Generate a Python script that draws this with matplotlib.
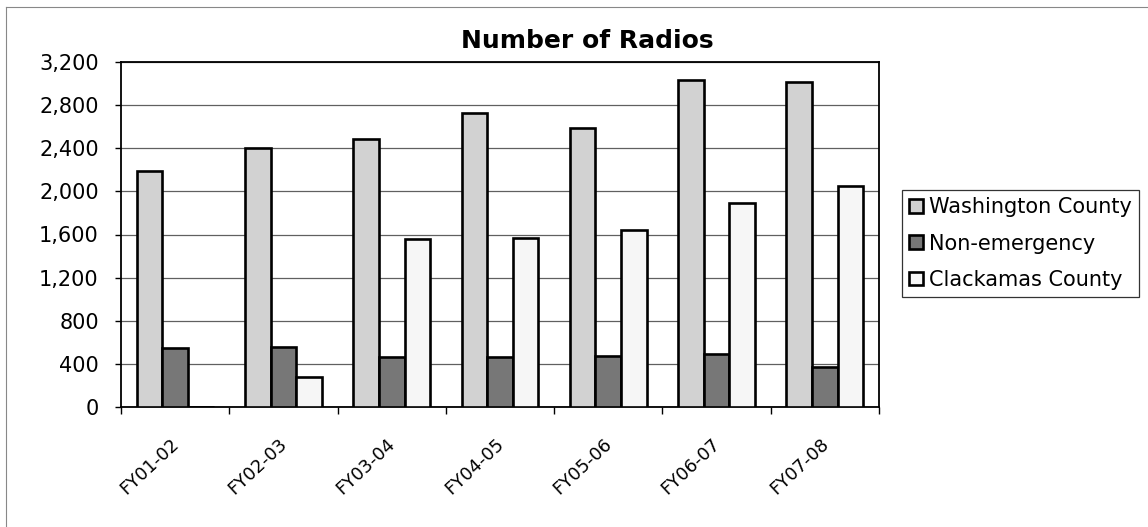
import matplotlib
matplotlib.use("Agg")
import matplotlib.pyplot as plt
import matplotlib.transforms as mtransforms
from matplotlib.lines import Line2D
from matplotlib.ticker import FuncFormatter, FixedLocator
import numpy as np

categories = ["FY01-02", "FY02-03", "FY03-04", "FY04-05", "FY05-06", "FY06-07", "FY07-08"]
washington = [2190, 2400, 2490, 2730, 2585, 3035, 3015]
non_emergency = [550, 555, 460, 467, 473, 490, 368]
clackamas = [0, 280, 1555, 1565, 1642, 1890, 2050]
series_names = ["Washington County", "Non-emergency", "Clackamas County"]
colors = ["#d2d2d2", "#777777", "#f6f6f6"]

plt.rcParams['font.family'] = ['DejaVu Sans']

W, H = 1148, 527
fig = plt.figure(figsize=(W / 100, H / 100), dpi=100)
ax = fig.add_axes([121 / W, 1 - 407 / H, 758 / W, 345 / H])

x = np.arange(len(categories))
bw = 0.237
for i, (vals, name, col) in enumerate(zip([washington, non_emergency, clackamas], series_names, colors)):
    ax.bar(x + (i - 1) * bw, vals, width=bw, color=col, edgecolor="black",
           linewidth=1.9, label=name, zorder=3)

ax.set_xlim(-0.5, len(categories) - 0.5)
ax.set_ylim(0, 3200)
ax.set_yticks(np.arange(0, 3201, 400))
ax.yaxis.set_major_formatter(FuncFormatter(lambda v, p: f"{int(v):,}"))
ax.grid(axis="y", color="#606060", linewidth=0.9, zorder=0)
ax.set_axisbelow(True)

for s in ax.spines.values():
    s.set_color("black")
    s.set_linewidth(1.3)

ax.tick_params(axis="y", labelsize=15, length=4, width=1, pad=12, direction="out")
ax.set_xticks(x)
ax.set_xticklabels(categories, rotation=43, ha="right", va="center",
                   rotation_mode="anchor", fontsize=13)
ax.tick_params(axis="x", which="major", length=0, pad=25)
ax.xaxis.set_minor_locator(FixedLocator(np.arange(-0.5, len(categories), 1.0)))
ax.tick_params(axis="x", which="minor", length=5, width=1, direction="out")
offset = mtransforms.ScaledTranslation(1 / 100, 0, fig.dpi_scale_trans)
for lbl in ax.get_xticklabels():
    lbl.set_transform(lbl.get_transform() + offset)

fig.text(587 / W, 1 - 41 / H, "Number of Radios", ha="center", va="center",
         fontsize=18, fontweight="bold")

leg = ax.legend(loc="upper left", bbox_to_anchor=(902 / W, 1 - 190 / H),
                bbox_transform=fig.transFigure, fontsize=15, frameon=True,
                fancybox=False, shadow=False, borderpad=0.35, labelspacing=0.78,
                handlelength=0.65, handleheight=0.65, handletextpad=0.3,
                borderaxespad=0)
leg.get_frame().set_edgecolor("black")
leg.get_frame().set_linewidth(0.9)

# figure border (top and left)
fig.add_artist(Line2D([6 / W, 1], [1 - 7 / H, 1 - 7 / H], transform=fig.transFigure,
                      color="#888888", linewidth=0.8))
fig.add_artist(Line2D([6 / W, 6 / W], [0, 1 - 7 / H], transform=fig.transFigure,
                      color="#888888", linewidth=0.8))

fig.savefig("out.png", dpi=100)
